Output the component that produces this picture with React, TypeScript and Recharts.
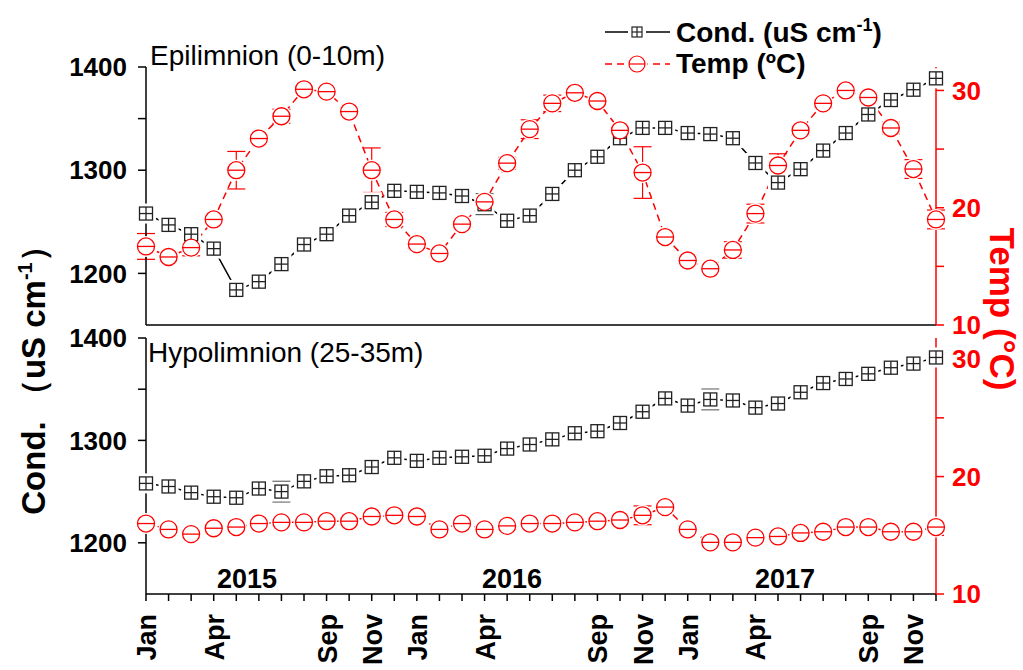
import React from 'react';
import { LineChart, Line, XAxis, YAxis, ErrorBar } from 'recharts';

const months = [
  'Jan 2015', 'Feb 2015', 'Mar 2015', 'Apr 2015', 'May 2015', 'Jun 2015',
  'Jul 2015', 'Aug 2015', 'Sep 2015', 'Oct 2015', 'Nov 2015', 'Dec 2015',
  'Jan 2016', 'Feb 2016', 'Mar 2016', 'Apr 2016', 'May 2016', 'Jun 2016',
  'Jul 2016', 'Aug 2016', 'Sep 2016', 'Oct 2016', 'Nov 2016', 'Dec 2016',
  'Jan 2017', 'Feb 2017', 'Mar 2017', 'Apr 2017', 'May 2017', 'Jun 2017',
  'Jul 2017', 'Aug 2017', 'Sep 2017', 'Oct 2017', 'Nov 2017', 'Dec 2017',
];
const shownMonths = ['Jan', 'Apr', 'Sep', 'Nov'];
const years = ['2015', '2016', '2017'];

// Epilimnion (0-10m)
const epiCond = [1258, 1247, 1238, 1224, 1184, 1192, 1209, 1228, 1238, 1256, 1269, 1280,
  1279, 1278, 1275, 1267, 1251, 1256, 1277, 1300, 1313, 1331, 1341, 1341,
  1336, 1335, 1331, 1307, 1288, 1301, 1319, 1336, 1354, 1368, 1378, 1389];
const epiCondErr = [3, 2, 4, 2, 3, 2, 2, 2, 3, 2, 3, 2,
  2, 2, 3, 10, 2, 2, 8, 2, 2, 3, 2, 2,
  2, 2, 3, 3, 4, 3, 8, 2, 3, 2, 2, 2];
const epiTemp = [16.7, 15.8, 16.6, 19.0, 23.2, 25.9, 27.8, 30.1, 29.9, 28.2, 23.2, 19.0,
  16.9, 16.1, 18.6, 20.5, 23.8, 26.7, 28.9, 29.8, 29.1, 26.6, 23.0, 17.5,
  15.5, 14.8, 16.4, 19.5, 23.6, 26.6, 28.9, 30.0, 29.4, 26.8, 23.3, 19.0];
const epiTempErr = [1.1, 0.4, 0.7, 0.4, 1.6, 0.4, 0.6, 0.3, 0.3, 0.4, 1.9, 0.6,
  0.4, 0.3, 0.4, 0.5, 0.5, 0.8, 0.7, 0.3, 0.3, 0.4, 2.2, 0.4,
  0.4, 0.3, 0.7, 0.8, 1.0, 0.4, 0.4, 0.3, 0.4, 0.5, 0.8, 0.8];

// Hypolimnion (25-35m)
const hypoCond = [1258, 1255, 1249, 1245, 1244, 1253, 1250, 1260, 1265, 1266, 1274, 1283,
  1280, 1283, 1284, 1285, 1292, 1296, 1301, 1307, 1309, 1317, 1328, 1341,
  1334, 1340, 1339, 1332, 1336, 1347, 1356, 1360, 1365, 1371, 1375, 1381];
const hypoCondErr = [3, 5, 2, 2, 2, 3, 10, 3, 7, 2, 2, 2,
  2, 3, 2, 2, 2, 2, 2, 2, 2, 2, 2, 2,
  3, 10, 2, 8, 3, 2, 2, 2, 2, 2, 2, 2];
const hypoTemp = [16.0, 15.5, 15.1, 15.6, 15.7, 16.0, 16.1, 16.1, 16.2, 16.2, 16.6, 16.7,
  16.6, 15.5, 16.0, 15.5, 15.8, 16.0, 16.0, 16.1, 16.2, 16.3, 16.7, 17.4,
  15.5, 14.4, 14.4, 14.8, 14.9, 15.2, 15.3, 15.7, 15.7, 15.3, 15.3, 15.7];
const hypoTempErr = [0.3, 0.3, 0.3, 0.3, 0.3, 0.3, 0.3, 0.3, 0.3, 0.3, 0.3, 0.3,
  0.3, 0.3, 0.3, 0.2, 0.3, 0.3, 0.3, 0.2, 0.2, 0.2, 0.8, 0.2,
  0.3, 0.2, 0.2, 0.3, 0.2, 0.2, 0.2, 0.3, 0.3, 0.2, 0.2, 0.2];

const condTicks = [1200, 1250, 1300, 1350, 1400];
const tempTicks = [10, 15, 20, 25, 30];

const FONT = '"Liberation Sans", Arial, sans-serif';
const RED = '#ff0000';

const epiRows = months.map((m, i) => ({
  m, cond: epiCond[i], condErr: epiCondErr[i], temp: epiTemp[i], tempErr: epiTempErr[i],
}));
const hypoRows = months.map((m, i) => ({
  m, cond: hypoCond[i], condErr: hypoCondErr[i], temp: hypoTemp[i], tempErr: hypoTempErr[i],
}));

// white patch under each marker so the line stops short of it (Origin style)
const squareHalo = (p: any) => (
  <rect key={`sh${p.index}`} x={p.cx - 10} y={p.cy - 10} width={20} height={20} fill="#fff" />
);
const circleHalo = (p: any) => (
  <circle key={`ch${p.index}`} cx={p.cx} cy={p.cy} r={10.5} fill="#fff" />
);

const squareDot = (p: any) => {
  const { cx, cy, index } = p;
  return (
    <g key={`s${index}`} stroke="#222" strokeWidth={1.3}>
      <rect x={cx - 6.5} y={cy - 6.5} width={13} height={13} fill="#fff" />
      <line x1={cx} y1={cy - 6.5} x2={cx} y2={cy + 6.5} />
      <line x1={cx - 6.5} y1={cy} x2={cx + 6.5} y2={cy} />
    </g>
  );
};
const circleDot = (p: any) => {
  const { cx, cy, index } = p;
  return (
    <g key={`c${index}`} stroke={RED} strokeWidth={1.3}>
      <circle cx={cx} cy={cy} r={8.5} fill="#fff" />
      <line x1={cx - 8.5} y1={cy} x2={cx + 8.5} y2={cy} />
    </g>
  );
};

const MonthTick = (props: any) => {
  const { x, y, payload } = props;
  const m = String(payload.value).slice(0, 3);
  if (!shownMonths.includes(m)) return <g />;
  const tx = x + 10;
  const ty = y + 11;
  return (
    <text x={tx} y={ty} transform={`rotate(-90, ${tx}, ${ty})`} textAnchor="end"
      fontFamily={FONT} fontWeight="bold" fontSize={27} fill="#000">
      {m}
    </text>
  );
};

const axisLine = { stroke: '#000', strokeWidth: 1.5 };
const redLine = { stroke: RED, strokeWidth: 1.5 };
const leftTick = { fontFamily: FONT, fontWeight: 'bold', fontSize: 26, fill: '#000' };
const rightTick = { fontFamily: FONT, fontWeight: 'bold', fontSize: 26, fill: RED };

const Panel = ({ rows, height, top, xHeight, tempMax, bottomAxis }: any) => (
  <LineChart width={1023} height={height} data={rows}
    margin={{ top, right: 27, bottom: 0, left: 86 }}>
    <XAxis dataKey="m" scale="point" interval={0} height={xHeight} tickSize={7}
      axisLine={axisLine} tickLine={axisLine}
      tick={bottomAxis ? <MonthTick /> : false} />
    <YAxis yAxisId="c" type="number" domain={[1150, 1400]} ticks={condTicks} interval={0}
      width={60} tickSize={8} tickMargin={11} axisLine={axisLine} tickLine={axisLine}
      tick={leftTick} tickFormatter={(v: number) => (v % 100 === 0 ? String(v) : '')} />
    <YAxis yAxisId="t" orientation="right" type="number" domain={[10, tempMax]} ticks={tempTicks}
      interval={0} width={60} tickSize={8} tickMargin={8} axisLine={redLine} tickLine={redLine}
      tick={rightTick} tickFormatter={(v: number) => (v % 10 === 0 ? String(v) : '')} />
    <Line yAxisId="c" dataKey="cond" stroke="#000" strokeWidth={1.5} dot={squareHalo}
      activeDot={false} isAnimationActive={false} />
    <Line yAxisId="t" dataKey="temp" stroke={RED} strokeWidth={1.5} strokeDasharray="7 5"
      dot={circleHalo} activeDot={false} isAnimationActive={false} />
    <Line yAxisId="c" dataKey="cond" stroke="none" dot={squareDot} activeDot={false}
      isAnimationActive={false}>
      <ErrorBar dataKey="condErr" width={9} stroke="#222" strokeWidth={1.2} direction="y" />
    </Line>
    <Line yAxisId="t" dataKey="temp" stroke="none" dot={circleDot} activeDot={false}
      isAnimationActive={false}>
      <ErrorBar dataKey="tempErr" width={9} stroke={RED} strokeWidth={1.2} direction="y" />
    </Line>
  </LineChart>
);

const App = () => (
  <div style={{ position: 'absolute', left: 0, top: 0, width: 1023, height: 670, background: '#fff' }}>
    <div style={{ position: 'absolute', left: 0, top: 0 }}>
      <Panel rows={epiRows} height={345} top={67} xHeight={20} tempMax={32} bottomAxis={false} />
    </div>
    <div style={{ position: 'absolute', left: 0, top: 0 }}>
      <Panel rows={hypoRows} height={670} top={338} xHeight={76} tempMax={31.8} bottomAxis />
    </div>
    <svg width={1023} height={670} style={{ position: 'absolute', left: 0, top: 0, pointerEvents: 'none' }}
      fontFamily={FONT}>
      {/* legend */}
      <line x1={605} y1={32} x2={670} y2={32} stroke="#000" strokeWidth={1.5} />
      <rect x={628} y={23} width={18} height={18} fill="#fff" />
      <g stroke="#222" strokeWidth={1.2}>
        <rect x={632} y={27} width={10} height={10} fill="#fff" />
        <line x1={637} y1={27} x2={637} y2={37} />
        <line x1={632} y1={32} x2={642} y2={32} />
      </g>
      <text x={676} y={42} fontSize={28} fontWeight="bold" fill="#000">
        Cond. (uS cm<tspan dy={-11} fontSize={18}>-1</tspan><tspan dy={11}>)</tspan>
      </text>
      <line x1={605} y1={64} x2={670} y2={64} stroke={RED} strokeWidth={1.5} strokeDasharray="7 5" />
      <circle cx={637} cy={64} r={10.5} fill="#fff" />
      <g stroke={RED} strokeWidth={1.2}>
        <circle cx={637} cy={64} r={8} fill="#fff" />
        <line x1={629} y1={64} x2={645} y2={64} />
      </g>
      <text x={676} y={73} fontSize={28} fontWeight="bold" fill="#000">Temp (ºC)</text>

      {/* panel titles */}
      <text x={150} y={65} fontSize={28} fill="#000">Epilimnion (0-10m)</text>
      <text x={148} y={362} fontSize={28} fill="#000">Hypolimnion (25-35m)</text>

      {/* year labels */}
      <text x={247} y={588} fontSize={27} fontWeight="bold" textAnchor="middle" fill="#000">{years[0]}</text>
      <text x={512} y={588} fontSize={27} fontWeight="bold" textAnchor="middle" fill="#000">{years[1]}</text>
      <text x={785} y={588} fontSize={27} fontWeight="bold" textAnchor="middle" fill="#000">{years[2]}</text>

      {/* axis titles */}
      <text x={45} y={372} transform="rotate(-90, 45, 372)" textAnchor="middle" fontSize={33}
        fontWeight="bold" fill="#000">
        Cond. （uS cm<tspan dy={-13} fontSize={20}>-1</tspan><tspan dy={13}>）</tspan>
      </text>
      <text x={990} y={309} transform="rotate(90, 990, 309)" textAnchor="middle" fontSize={35}
        fontWeight="bold" fill={RED}>
        Temp (°C)
      </text>
    </svg>
  </div>
);

export default App;
